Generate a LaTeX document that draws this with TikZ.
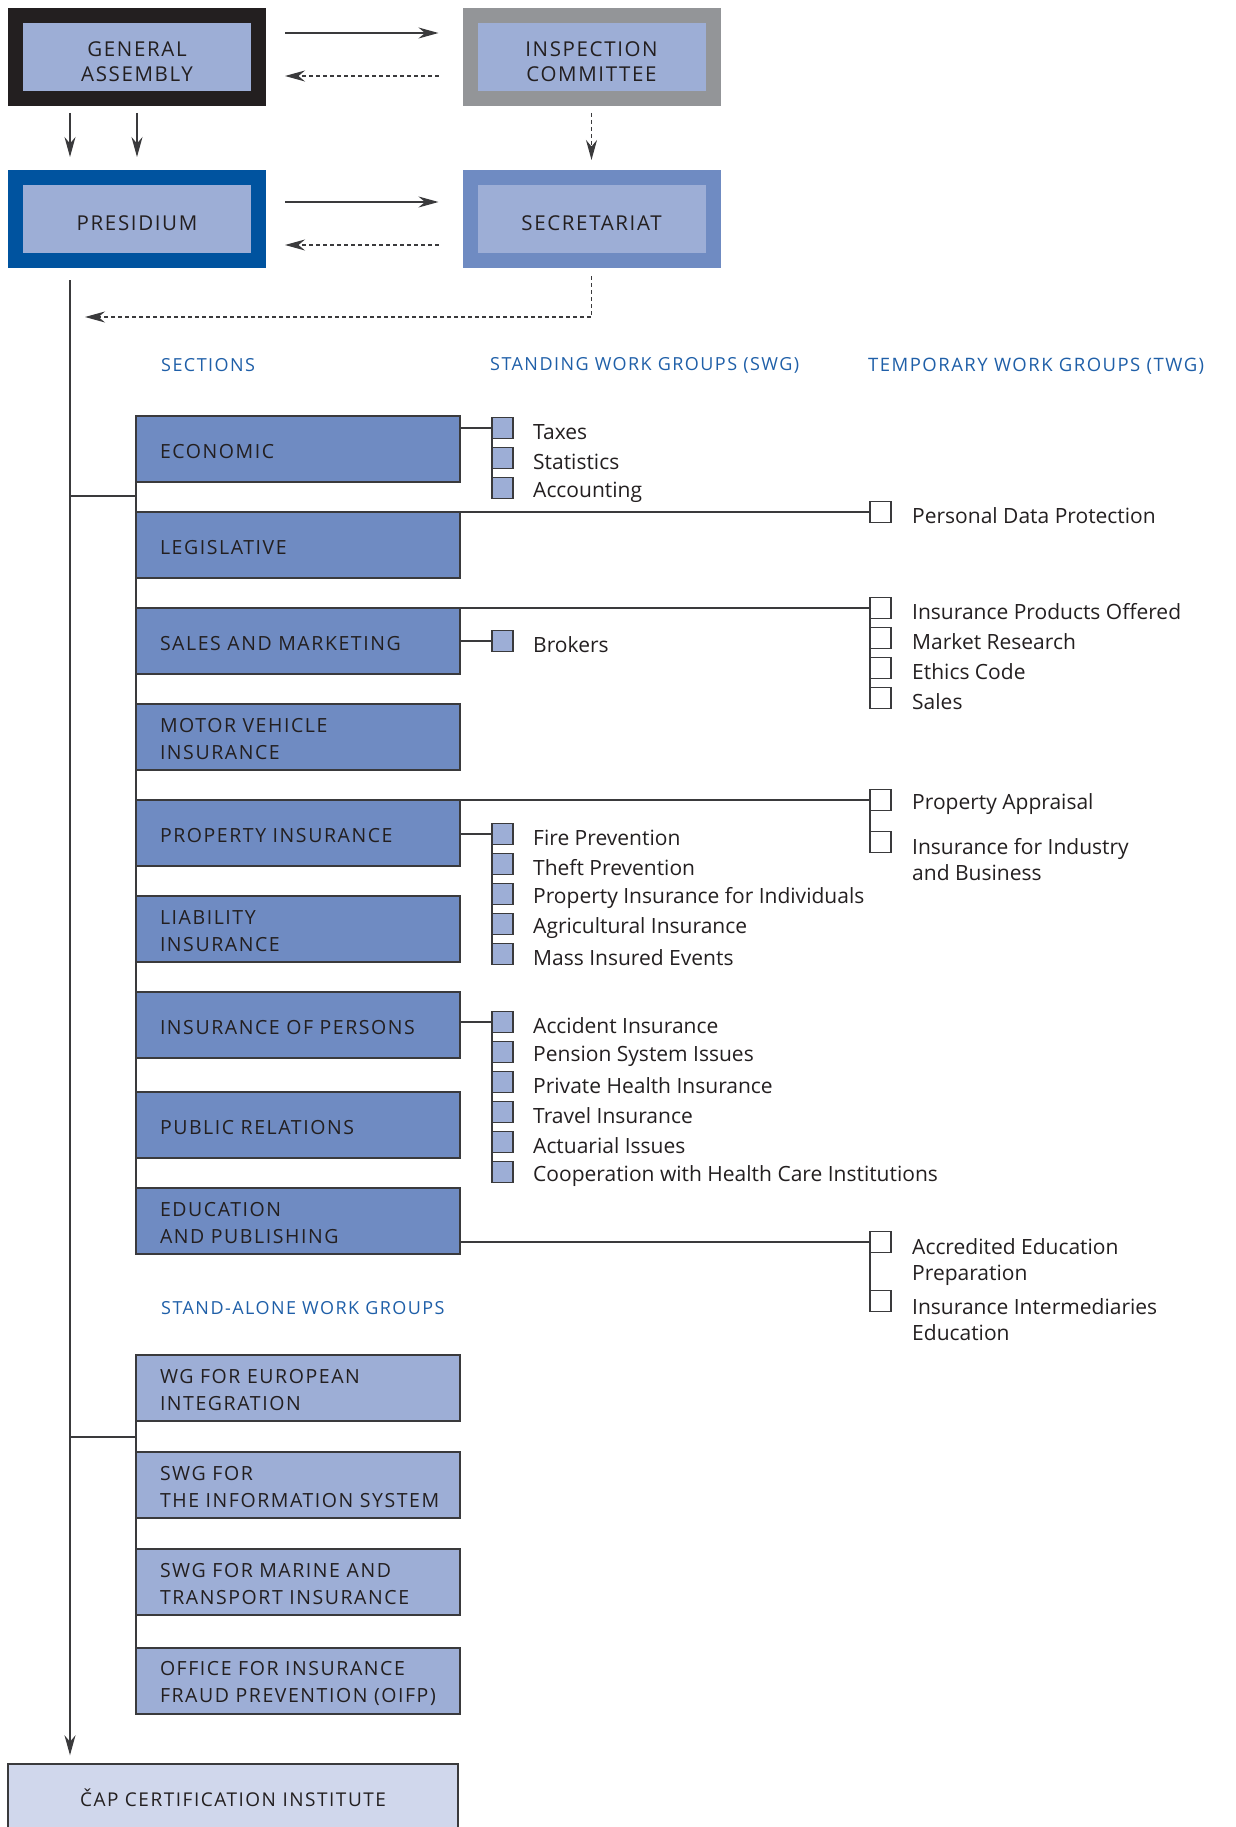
\documentclass[tikz,border=0pt]{standalone}
\usepackage{fontspec}
\setmainfont{Open Sans}
\newfontfamily\capsfont[LetterSpace=8]{Open Sans}
\newfontfamily\headfont[LetterSpace=8]{Open Sans}
\usetikzlibrary{positioning,arrows.meta}
\definecolor{lightfill}{HTML}{9DAED6}
\definecolor{secfill}{HTML}{6F8BC2}
\definecolor{capfill}{HTML}{D0D7EC}
\definecolor{gaborder}{HTML}{231F20}
\definecolor{icborder}{HTML}{939598}
\definecolor{presborder}{HTML}{00539F}
\definecolor{secborder}{HTML}{6F8BC2}
\definecolor{headblue}{HTML}{1F5FA8}
\definecolor{boxline}{HTML}{3A3A3C}
\definecolor{textdark}{HTML}{231F20}

\begin{document}
\begin{tikzpicture}[x=1pt, y=-1pt,
          arrowstyle/.style={-{Stealth[length=20pt, width=11pt]}, draw=boxline, line width=1.5pt},
          dashstyle/.style={arrowstyle, dash pattern=on 4pt off 3pt},
          linestyle/.style={draw=boxline, line width=1.5pt}]
          % Boxes and texts
          \tikzstyle{topbox} = [rectangle, line width=15pt, fill=lightfill, minimum width=243pt, minimum height=83pt, align=center, text=textdark, font=\capsfont\fontsize{20.5}{25}\selectfont, text height=23pt, text depth=0pt]
          \tikzstyle{secbox} = [rectangle, draw=boxline, line width=1.5pt, fill=secfill, minimum width=324pt, minimum height=66pt, text width=276pt, inner xsep=24pt, align=left, outer sep=0pt, text=textdark, font=\capsfont\fontsize{19.5}{27}\selectfont, execute at begin node={\rule{0pt}{19pt}}]
          \tikzstyle{alonebox} = [secbox, fill=lightfill]
          \tikzstyle{capbox} = [rectangle, draw=boxline, line width=1.5pt, fill=capfill, minimum width=450pt, minimum height=68pt, text=textdark, font=\capsfont\fontsize{19}{25}\selectfont]
          \tikzstyle{swgsq} = [rectangle, draw=boxline, line width=1.5pt, fill=lightfill, minimum size=21pt, inner sep=0pt, outer sep=0pt]
          \tikzstyle{twgsq} = [swgsq, fill=white]
          \tikzstyle{itemtext} = [inner sep=0pt, align=left, yshift=-4pt, text=textdark, font=\fontsize{21}{26}\selectfont]
          \tikzstyle{headtext} = [anchor=west, inner sep=0pt, text=headblue, font=\headfont\fontsize{18}{20}\selectfont]

          \useasboundingbox (0,0) rectangle (1235,1827);

          % Top of the organisation
          \node (ga)   [topbox, draw=gaborder, text height=49pt] at (137,57)   {GENERAL\\ASSEMBLY};
          \node (ic)   [topbox, draw=icborder, text height=49pt] at (591.5,57) {INSPECTION\\COMMITTEE};
          \node (pres) [topbox, draw=presborder] at (137,219)   {PRESIDIUM};
          \node (sec)  [topbox, draw=secborder]  at (591.5,219) {SECRETARIAT};

          \draw[arrowstyle, shorten <=19pt, shorten >=24pt] ([yshift=24pt]ga.east) -- ([yshift=24pt]ic.west);
          \draw[dashstyle, shorten <=24pt, shorten >=19pt] ([yshift=-19pt]ic.west) -- ([yshift=-19pt]ga.east);
          \draw[arrowstyle, shorten <=19pt, shorten >=24pt] ([yshift=17pt]pres.east) -- ([yshift=17pt]sec.west);
          \draw[dashstyle, shorten <=24pt, shorten >=19pt] ([yshift=-26pt]sec.west) -- ([yshift=-26pt]pres.east);
          \draw[arrowstyle, shorten <=7pt, shorten >=13pt] ([xshift=-67pt]ga.south) -- ([xshift=-67pt]pres.north);
          \draw[arrowstyle, shorten <=7pt, shorten >=13pt] (ga.south) -- (pres.north);
          \draw[dashstyle, shorten <=7pt, shorten >=10pt] (ic.south) -- (sec.north);

          \coordinate (back) at (85,317);
          \draw[dashstyle, shorten <=8pt] (sec.south) |- (back);

          % Column heads
          \node (hsec)   [headtext] at (161,365)  {SECTIONS};
          \node (hswg)   [headtext] at (490,365)  {STANDING WORK GROUPS (SWG)};
          \node (htwg)   [headtext, font=\headfont\fontsize{18.5}{20}\selectfont] at (868,366) {TEMPORARY WORK GROUPS (TWG)};
          \node (halone) [headtext] at (161,1308) {STAND-ALONE WORK GROUPS};

          % Sections
          \node (econ)    [secbox] at (298,449) {ECONOMIC};
          \node (legis)   [secbox, below=30pt of econ]    {LEGISLATIVE};
          \node (sales)   [secbox, below=30pt of legis]   {SALES AND MARKETING};
          \node (motor)   [secbox, below=30pt of sales]   {MOTOR VEHICLE\\INSURANCE};
          \node (prop)    [secbox, below=30pt of motor]   {PROPERTY INSURANCE};
          \node (liab)    [secbox, below=30pt of prop]    {LIABILITY\\INSURANCE};
          \node (persons) [secbox, below=30pt of liab]    {INSURANCE OF PERSONS};
          \node (pr)      [secbox, below=34pt of persons] {PUBLIC RELATIONS};
          \node (edu)     [secbox, below=30pt of pr]      {EDUCATION\\AND PUBLISHING};

          % Stand-alone work groups
          \node (wgeu)   [alonebox] at (298,1388) {WG FOR EUROPEAN\\INTEGRATION};
          \node (swgis)  [alonebox, below=31pt of wgeu]  {SWG FOR\\\mbox{THE INFORMATION SYSTEM}};
          \node (swgmar) [alonebox, below=31pt of swgis] {SWG FOR MARINE AND\\\mbox{TRANSPORT INSURANCE}};
          \node (oifp)   [alonebox, below=33pt of swgmar] {OFFICE FOR INSURANCE\\\mbox{FRAUD PREVENTION (OIFP)}};

          \node (cap) [capbox] at (233,1798) {ČAP CERTIFICATION INSTITUTE};

          % Main line
          \coordinate (trunk) at (70,280);
          \coordinate (secjoin) at ([yshift=-14pt]econ.south west);
          \coordinate (alonejoin) at ([yshift=-16pt]wgeu.south west);
          \draw[arrowstyle, shorten >=8pt] (trunk) -- (trunk |- cap.north);
          \draw[linestyle] (econ.north west) -- (edu.south west);
          \draw[linestyle] (trunk |- secjoin) -- (secjoin);
          \draw[linestyle] (wgeu.north west) -- (oifp.south west);
          \draw[linestyle] (trunk |- alonejoin) -- (alonejoin);

          % Standing work groups
          \node (taxes) [swgsq] at (502.5,428) {};
          \node (stats) [swgsq, below=9pt of taxes] {};
          \node (acct)  [swgsq, below=9pt of stats] {};
          \node (taxest) [itemtext, right=20pt of taxes] {Taxes};
          \node (statst) [itemtext, right=20pt of stats] {Statistics};
          \node (acctt)  [itemtext, right=20pt of acct]  {Accounting};
          \draw[linestyle] (econ.east |- taxes) -- (taxes.west) -- (acct.west);

          \node (brokers)  [swgsq] at (502.5,641) {};
          \node (brokerst) [itemtext, right=20pt of brokers] {Brokers};
          \draw[linestyle] (sales.east |- brokers) -- (brokers.west);

          \node (fire)  [swgsq] at (502.5,834) {};
          \node (theft) [swgsq, below=9pt of fire]  {};
          \node (indiv) [swgsq, below=9pt of theft] {};
          \node (agri)  [swgsq, below=9pt of indiv] {};
          \node (mass)  [swgsq, below=9pt of agri]  {};
          \node (firet)  [itemtext, right=20pt of fire]  {Fire Prevention};
          \node (theftt) [itemtext, right=20pt of theft] {Theft Prevention};
          \node (indivt) [itemtext, right=20pt of indiv] {Property Insurance for Individuals};
          \node (agrit)  [itemtext, right=20pt of agri]  {Agricultural Insurance};
          \node (masst)  [itemtext, right=20pt of mass]  {Mass Insured Events};
          \draw[linestyle] (prop.east |- fire) -- (fire.west) -- (mass.west);

          \node (accid)   [swgsq] at (502.5,1022) {};
          \node (pension) [swgsq, below=9pt of accid]   {};
          \node (health)  [swgsq, below=9pt of pension] {};
          \node (travel)  [swgsq, below=9pt of health]  {};
          \node (actu)    [swgsq, below=9pt of travel]  {};
          \node (coop)    [swgsq, below=9pt of actu]    {};
          \node (accidt)   [itemtext, right=20pt of accid]   {Accident Insurance};
          \node (pensiont) [itemtext, right=20pt of pension] {Pension System Issues};
          \node (healtht)  [itemtext, right=20pt of health]  {Private Health Insurance};
          \node (travelt)  [itemtext, right=20pt of travel]  {Travel Insurance};
          \node (actut)    [itemtext, right=20pt of actu]    {Actuarial Issues};
          \node (coopt)    [itemtext, right=20pt of coop]    {Cooperation with Health Care Institutions};
          \draw[linestyle] (persons.east |- accid) -- (accid.west) -- (coop.west);

          % Temporary work groups
          \node (pdp)  [twgsq] at (legis.north east -| 880.5,0) {};
          \node (pdpt) [itemtext, right=21pt of pdp] {Personal Data Protection};
          \draw[linestyle] (legis.north east) -- (pdp.west);

          \node (ipo)    [twgsq] at (sales.north east -| 880.5,0) {};
          \node (mres)   [twgsq, below=9pt of ipo]    {};
          \node (ethics) [twgsq, below=9pt of mres]   {};
          \node (salesq) [twgsq, below=9pt of ethics] {};
          \node (ipot)    [itemtext, right=21pt of ipo]    {Insurance Products Offered};
          \node (mrest)   [itemtext, right=21pt of mres]   {Market Research};
          \node (ethicst) [itemtext, right=21pt of ethics] {Ethics Code};
          \node (salesqt) [itemtext, right=21pt of salesq] {Sales};
          \draw[linestyle] (sales.north east) -- (ipo.west) -- (salesq.west);

          \node (appr)  [twgsq] at (prop.north east -| 880.5,0) {};
          \node (indus) [twgsq, below=21pt of appr] {};
          \node (apprt)  [itemtext, right=21pt of appr] {Property Appraisal};
          \node (indust) [itemtext, right=21pt of indus, yshift=-14pt] {Insurance for Industry\\and Business};
          \draw[linestyle] (prop.north east) -- (appr.west) -- (indus.west);

          \node (accr)   [twgsq] at (880.5,1242) {};
          \node (interm) [twgsq, below=38pt of accr] {};
          \node (accrt)   [itemtext, right=21pt of accr, yshift=-16pt]   {Accredited Education\\Preparation};
          \node (intermt) [itemtext, right=21pt of interm, yshift=-15pt] {Insurance Intermediaries\\Education};
          \draw[linestyle] (edu.east |- accr) -- (accr.west) -- (interm.west);

          \end{tikzpicture}
\end{document}
